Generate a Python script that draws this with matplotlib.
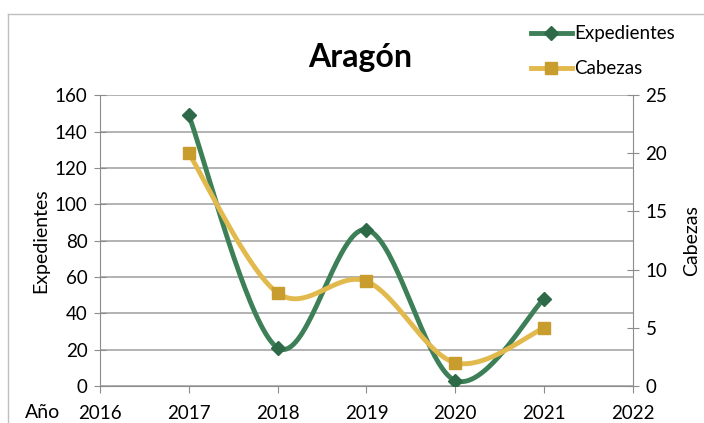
import numpy as np
import matplotlib.pyplot as plt
from matplotlib.lines import Line2D

plt.rcParams['font.family'] = ['Lato', 'DejaVu Sans']

anios = [2017, 2018, 2019, 2020, 2021]
expedientes = [149, 21, 86, 3, 48]
cabezas = [20, 8, 9, 2, 5]

verde = '#3d8057'
verde_osc = '#2f6a48'
oro = '#e2b94c'
oro_osc = '#c99c2e'


def suavizar(x, y, n=40):
    # curva tipo Catmull-Rom, como la linea suavizada de Excel
    x = np.asarray(x, float)
    y = np.asarray(y, float)
    px = np.concatenate([[x[0]], x, [x[-1]]])
    py = np.concatenate([[y[0]], y, [y[-1]]])
    xs, ys = [], []
    t = np.linspace(0, 1, n)
    for i in range(1, len(px) - 2):
        for p, out in ((px, xs), (py, ys)):
            p0, p1, p2, p3 = p[i - 1], p[i], p[i + 1], p[i + 2]
            c1 = p1 + (p2 - p0) / 6
            c2 = p2 - (p3 - p1) / 6
            out.extend((1 - t) ** 3 * p1 + 3 * (1 - t) ** 2 * t * c1
                       + 3 * (1 - t) * t ** 2 * c2 + t ** 3 * p2)
    return np.array(xs), np.array(ys)


fig = plt.figure(figsize=(7.04, 4.23), dpi=100)
ax = fig.add_axes([0.142, 0.0875, 0.757, 0.6875])
ax2 = ax.twinx()

ax.set_xlim(2016, 2022)
ax.set_ylim(0, 160)
ax2.set_ylim(0, 25)
ax.set_yticks(range(0, 161, 20))
ax2.set_yticks(range(0, 26, 5))
ax.set_xticks(range(2016, 2023))
ax.yaxis.grid(True, color='#a6a6a6', lw=1.2)
ax.set_axisbelow(True)

for a in (ax, ax2):
    a.spines['top'].set_visible(False)
    for s in ('left', 'right', 'bottom'):
        a.spines[s].set_color('#8c8c8c')
    a.tick_params(colors='#8c8c8c', labelcolor='black', labelsize=13.5, length=5)
ax2.spines['left'].set_visible(False)
ax.spines['right'].set_visible(False)
ax2.spines['bottom'].set_visible(False)
ax.tick_params(axis='y', direction='inout', length=8, pad=5)
ax2.tick_params(axis='y', direction='inout', length=8, pad=5)
ax.tick_params(axis='x', pad=9)

sx, sy = suavizar(anios, expedientes)
ax.plot(sx, sy, color=verde, lw=3.5, zorder=3)
ax.plot(anios, expedientes, ls='none', marker='D', ms=7, color=verde_osc, zorder=4)

cx, cy = suavizar(anios, cabezas)
ax2.plot(cx, cy, color=oro, lw=3.5, zorder=3)
ax2.plot(anios, cabezas, ls='none', marker='s', ms=8, color=oro_osc, zorder=4)

ax.set_ylabel('Expedientes', fontsize=14, labelpad=4)
ax2.set_ylabel('Cabezas', fontsize=14, labelpad=11)
fig.text(0.035, 0.012, 'Año', fontsize=14)
fig.text(0.512, 0.865, 'Aragón', fontsize=23, fontweight='bold', ha='center', va='center')

# leyenda
h1 = Line2D([], [], color=verde, lw=3.5, marker='D', ms=7, mfc=verde_osc, mec=verde_osc)
h2 = Line2D([], [], color=oro, lw=3.5, marker='s', ms=8, mfc=oro_osc, mec=oro_osc)
fig.legend([h1, h2], ['Expedientes', 'Cabezas'], loc='upper left',
           bbox_to_anchor=(0.73, 0.98), frameon=False, fontsize=13.5,
           handlelength=2.2, handletextpad=0.12, labelspacing=0.95)

# borde del grafico
fig.add_artist(Line2D([0.011, 0.011], [0, 0.967], color='#bfbfbf', lw=1))
fig.add_artist(Line2D([0.011, 1], [0.967, 0.967], color='#bfbfbf', lw=1))

fig.savefig('out.png', dpi=100)
